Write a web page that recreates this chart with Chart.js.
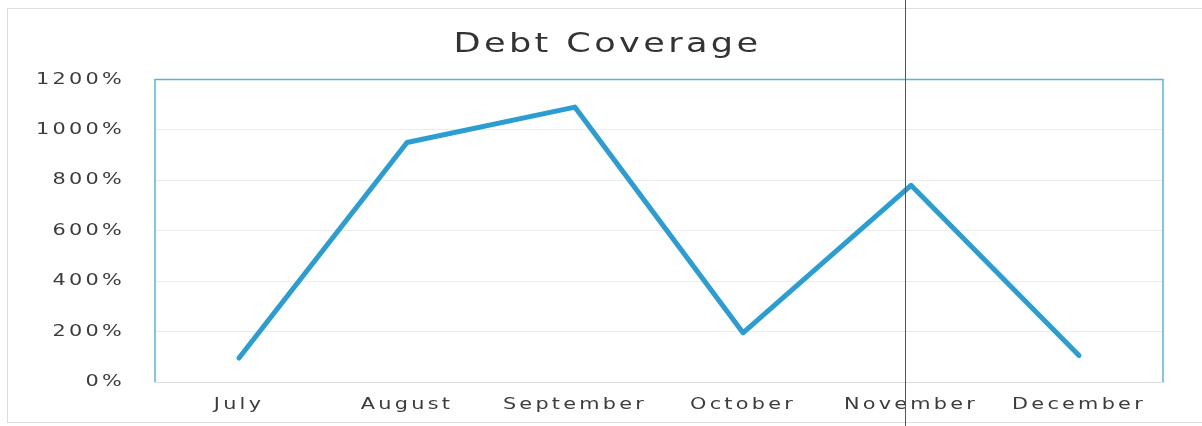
<!DOCTYPE html>
<html lang="en">
<head>
    <meta charset="UTF-8">
    <title>Debt Coverage</title>
    <script src="https://cdn.jsdelivr.net/npm/chart.js"></script>
    <style>
        body { margin: 0; background: #ffffff; }
        canvas { display: block; }
    </style>
</head>
<body>
    <canvas id="grafik" width="1202" height="426"></canvas>

    <script>
        // Veriler
        const months = ['July', 'August', 'September', 'October', 'November', 'December'];
        const coverage = [95, 950, 1090, 195, 780, 105];
        const yTicks = [0, 200, 400, 600, 800, 1000, 1200];

        const textSpacing = '2.5px';
        const textStretch = 1.3;   // taranmış görüntüdeki geniş harfler

        const ctx = document.getElementById('grafik').getContext('2d');

        // Yazıları yatayda genişlet (bağlantı noktası sabit kalır)
        const origFillText = ctx.fillText.bind(ctx);
        ctx.fillText = function (text, x, y, maxWidth) {
            ctx.save();
            ctx.translate(x, y);
            ctx.scale(textStretch, 1);
            origFillText(text, 0, 0);
            ctx.restore();
        };

        // Harf aralığı + çerçeve + tarama çizgisi
        const scanDecor = {
            id: 'scanDecor',
            beforeLayout(chart) {
                chart.ctx.letterSpacing = textSpacing;
            },
            afterLayout(chart) {
                // başlık, tüm tuvalin ortasına gelsin
                const tb = chart.titleBlock;
                if (tb && !tb.shifted) {
                    const orig = tb.draw;
                    tb.draw = function (area) {
                        this.ctx.save();
                        this.ctx.letterSpacing = '2.6px';
                        this.ctx.translate(26, 0);
                        orig.call(this, area);
                        this.ctx.restore();
                    };
                    tb.shifted = true;
                }
            },
            beforeDraw(chart) {
                chart.ctx.letterSpacing = textSpacing;
            },
            afterDraw(chart) {
                const c = chart.ctx;
                const a = chart.chartArea;
                c.save();
                // plot alanı mavi kenarlık (üst, sol, sağ)
                c.strokeStyle = '#5ab2e0';
                c.lineWidth = 1.5;
                c.beginPath();
                c.moveTo(a.left, a.bottom);
                c.lineTo(a.left, a.top);
                c.lineTo(a.right, a.top);
                c.lineTo(a.right, a.bottom);
                c.stroke();
                // dış çerçeve
                c.strokeStyle = '#dedede';
                c.lineWidth = 1;
                c.strokeRect(7.5, 8.5, chart.width, chart.height - 12);
                // tarama kıvrım çizgisi
                c.strokeStyle = '#555555';
                c.beginPath();
                c.moveTo(905.5, 0);
                c.lineTo(905.5, chart.height);
                c.stroke();
                c.restore();
            }
        };

        new Chart(ctx, {
            type: 'line',
            data: {
                labels: months,
                datasets: [{
                    label: 'Debt Coverage',
                    data: coverage,
                    borderColor: '#2a9dd2',
                    borderWidth: 5,
                    pointRadius: 0,
                    tension: 0,
                    borderCapStyle: 'round',
                    borderJoinStyle: 'round',
                    fill: false
                }]
            },
            options: {
                responsive: false,
                animation: false,
                layout: {
                    padding: { left: 0, right: 39, top: 0, bottom: 0 }
                },
                plugins: {
                    legend: { display: false },
                    tooltip: { enabled: false },
                    title: {
                        display: true,
                        text: 'Debt Coverage',
                        color: '#333333',
                        font: { family: 'DejaVu Sans', size: 27, weight: 'normal' },
                        padding: { top: 29, bottom: 18 }
                    }
                },
                scales: {
                    x: {
                        offset: true,
                        grid: { display: false, drawTicks: false },
                        border: { display: true, color: '#dcdcdc', width: 1 },
                        ticks: {
                            autoSkip: false,
                            maxRotation: 0,
                            padding: 13,
                            color: '#3c3c3c',
                            font: { family: 'DejaVu Sans', size: 16 }
                        },
                        afterFit(scale) { scale.height = 44; }
                    },
                    y: {
                        min: 0,
                        max: 1200,
                        afterBuildTicks(scale) {
                            scale.ticks = yTicks.map(v => ({ value: v }));
                        },
                        grid: { color: '#ececec', drawTicks: false },
                        border: { display: false },
                        ticks: {
                            padding: 30,
                            color: '#3c3c3c',
                            font: { family: 'DejaVu Sans', size: 16 },
                            callback: v => v + '%'
                        },
                        afterFit(scale) { scale.width = 155; }
                    }
                }
            },
            plugins: [scanDecor]
        });
    </script>
</body>
</html>
